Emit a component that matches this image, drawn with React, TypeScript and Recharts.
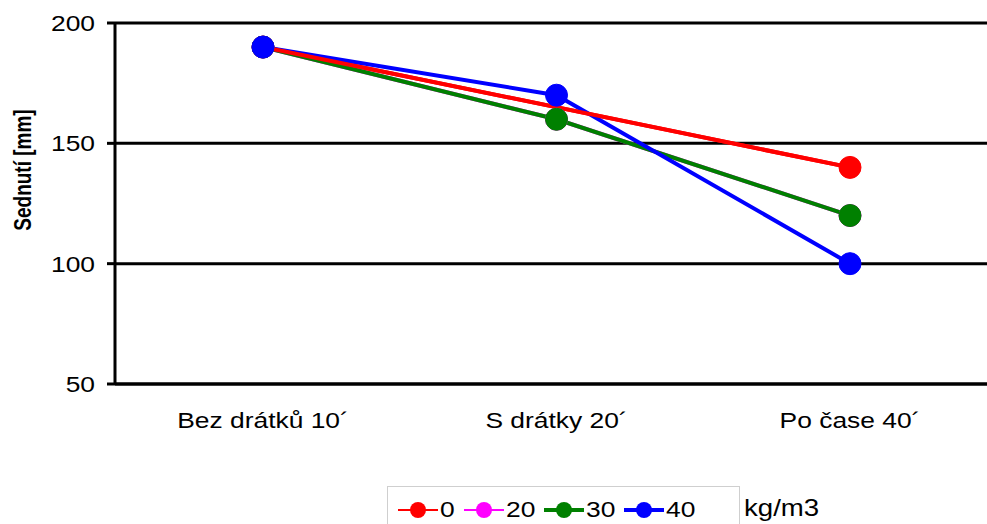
import { CartesianGrid, Legend, Line, LineChart, XAxis, YAxis } from 'recharts';

const categories = ['Bez drátků 10´', 'S drátky 20´', 'Po čase 40´'];
const dose0 = [190, null, 140];
const dose20 = [190, 160, 120];
const dose30 = [190, 160, 120];
const dose40 = [190, 170, 100];
const yTicks = [50, 100, 150, 200];

const SERIES = [
  { key: 'd0', name: '0', color: '#FF0000', width: 2 },
  { key: 'd20', name: '20', color: '#FF00FF', width: 2 },
  { key: 'd30', name: '30', color: '#008000', width: 4 },
  { key: 'd40', name: '40', color: '#0000FF', width: 4 },
];

const chartData = categories.map((cat, i) => ({
  cat,
  d0: dose0[i],
  d20: dose20[i],
  d30: dose30[i],
  d40: dose40[i],
}));

const FONT = '"Liberation Sans", Arial, sans-serif';

function YTick({ x, y, payload }: any) {
  return (
    <text
      transform={`translate(${x},${y}) scale(1.2,1)`}
      textAnchor="end"
      dy="0.36em"
      fontSize={22}
      fontFamily={FONT}
      fill="#000"
    >
      {payload.value}
    </text>
  );
}

function XTick({ x, y, payload }: any) {
  return (
    <text
      transform={`translate(${x},${y}) scale(1.2,1)`}
      textAnchor="middle"
      dy="0.36em"
      fontSize={22}
      fontFamily={FONT}
      fill="#000"
    >
      {payload.value}
    </text>
  );
}

function YLabel() {
  return (
    <text
      transform="translate(22,170) rotate(-90) scale(1,1.3)"
      textAnchor="middle"
      dy="0.36em"
      fontSize={19}
      fontWeight="bold"
      fontFamily={FONT}
      fill="#000"
    >
      Sednutí [mm]
    </text>
  );
}

function LegendBox() {
  return (
    <div style={{ display: 'flex', alignItems: 'flex-start' }}>
      <div
        style={{
          border: '1px solid #cfcfcf',
          height: 50,
          width: 353,
          boxSizing: 'border-box',
          display: 'flex',
          alignItems: 'flex-start',
          paddingTop: 10,
          paddingLeft: 10,
        }}
      >
        {SERIES.map((s) => (
          <div key={s.key} style={{ display: 'flex', alignItems: 'center', marginRight: 6 }}>
            <svg width={42} height={22}>
              <line x1={0} y1={11} x2={40} y2={11} stroke={s.color} strokeWidth={s.width} />
              <circle cx={20} cy={11} r={8} fill={s.color} />
            </svg>
            <span
              style={{
                fontFamily: FONT,
                fontSize: 22,
                display: 'inline-block',
                transform: 'scale(1.2,1)',
                transformOrigin: 'left center',
                width: s.name.length * 14 + 4,
              }}
            >
              {s.name}
            </span>
          </div>
        ))}
      </div>
      <span
        style={{
          fontFamily: FONT,
          fontSize: 24,
          lineHeight: '24px',
          marginLeft: 4,
          marginTop: 10,
          display: 'inline-block',
          transform: 'scale(1.15,1)',
          transformOrigin: 'left center',
        }}
      >
        kg/m3
      </span>
    </div>
  );
}

export default function App() {
  return (
    <div
      style={{
        position: 'fixed',
        left: 0,
        top: 0,
        width: 987,
        height: 524,
        overflow: 'hidden',
        background: '#fff',
      }}
    >
      <LineChart
        width={998}
        height={524}
        data={chartData}
        margin={{ top: 23, right: 0, bottom: 0, left: 0 }}
      >
        <CartesianGrid vertical={false} stroke="#000" strokeWidth={3} />
        <XAxis
          dataKey="cat"
          padding={{ left: 148, right: 148 }}
          axisLine={{ stroke: '#000', strokeWidth: 3 }}
          tickLine={false}
          tick={<XTick />}
          tickMargin={30}
          height={140}
          interval={0}
        />
        <YAxis
          domain={[50, 200]}
          ticks={yTicks}
          width={115}
          axisLine={{ stroke: '#000', strokeWidth: 3 }}
          tickLine={{ stroke: '#000', strokeWidth: 3 }}
          tickSize={8}
          tickMargin={12}
          tick={<YTick />}
          label={<YLabel />}
        />
        <Legend
          layout="vertical"
          align="center"
          verticalAlign="middle"
          content={<LegendBox />}
          wrapperStyle={{ position: 'absolute', left: 387, top: 486, width: 450, height: 50 }}
        />
        {SERIES.map((s) => (
          <Line
            key={s.key}
            dataKey={s.key}
            name={s.name}
            stroke={s.color}
            strokeWidth={4}
            dot={{ r: 11, fill: s.color, stroke: s.color, strokeWidth: 1 }}
            connectNulls
            isAnimationActive={false}
          />
        ))}
        {/* red line sits on top of the others in the original */}
        <Line
          dataKey="d0"
          stroke="#FF0000"
          strokeWidth={4}
          dot={false}
          connectNulls
          legendType="none"
          isAnimationActive={false}
        />
      </LineChart>
    </div>
  );
}
